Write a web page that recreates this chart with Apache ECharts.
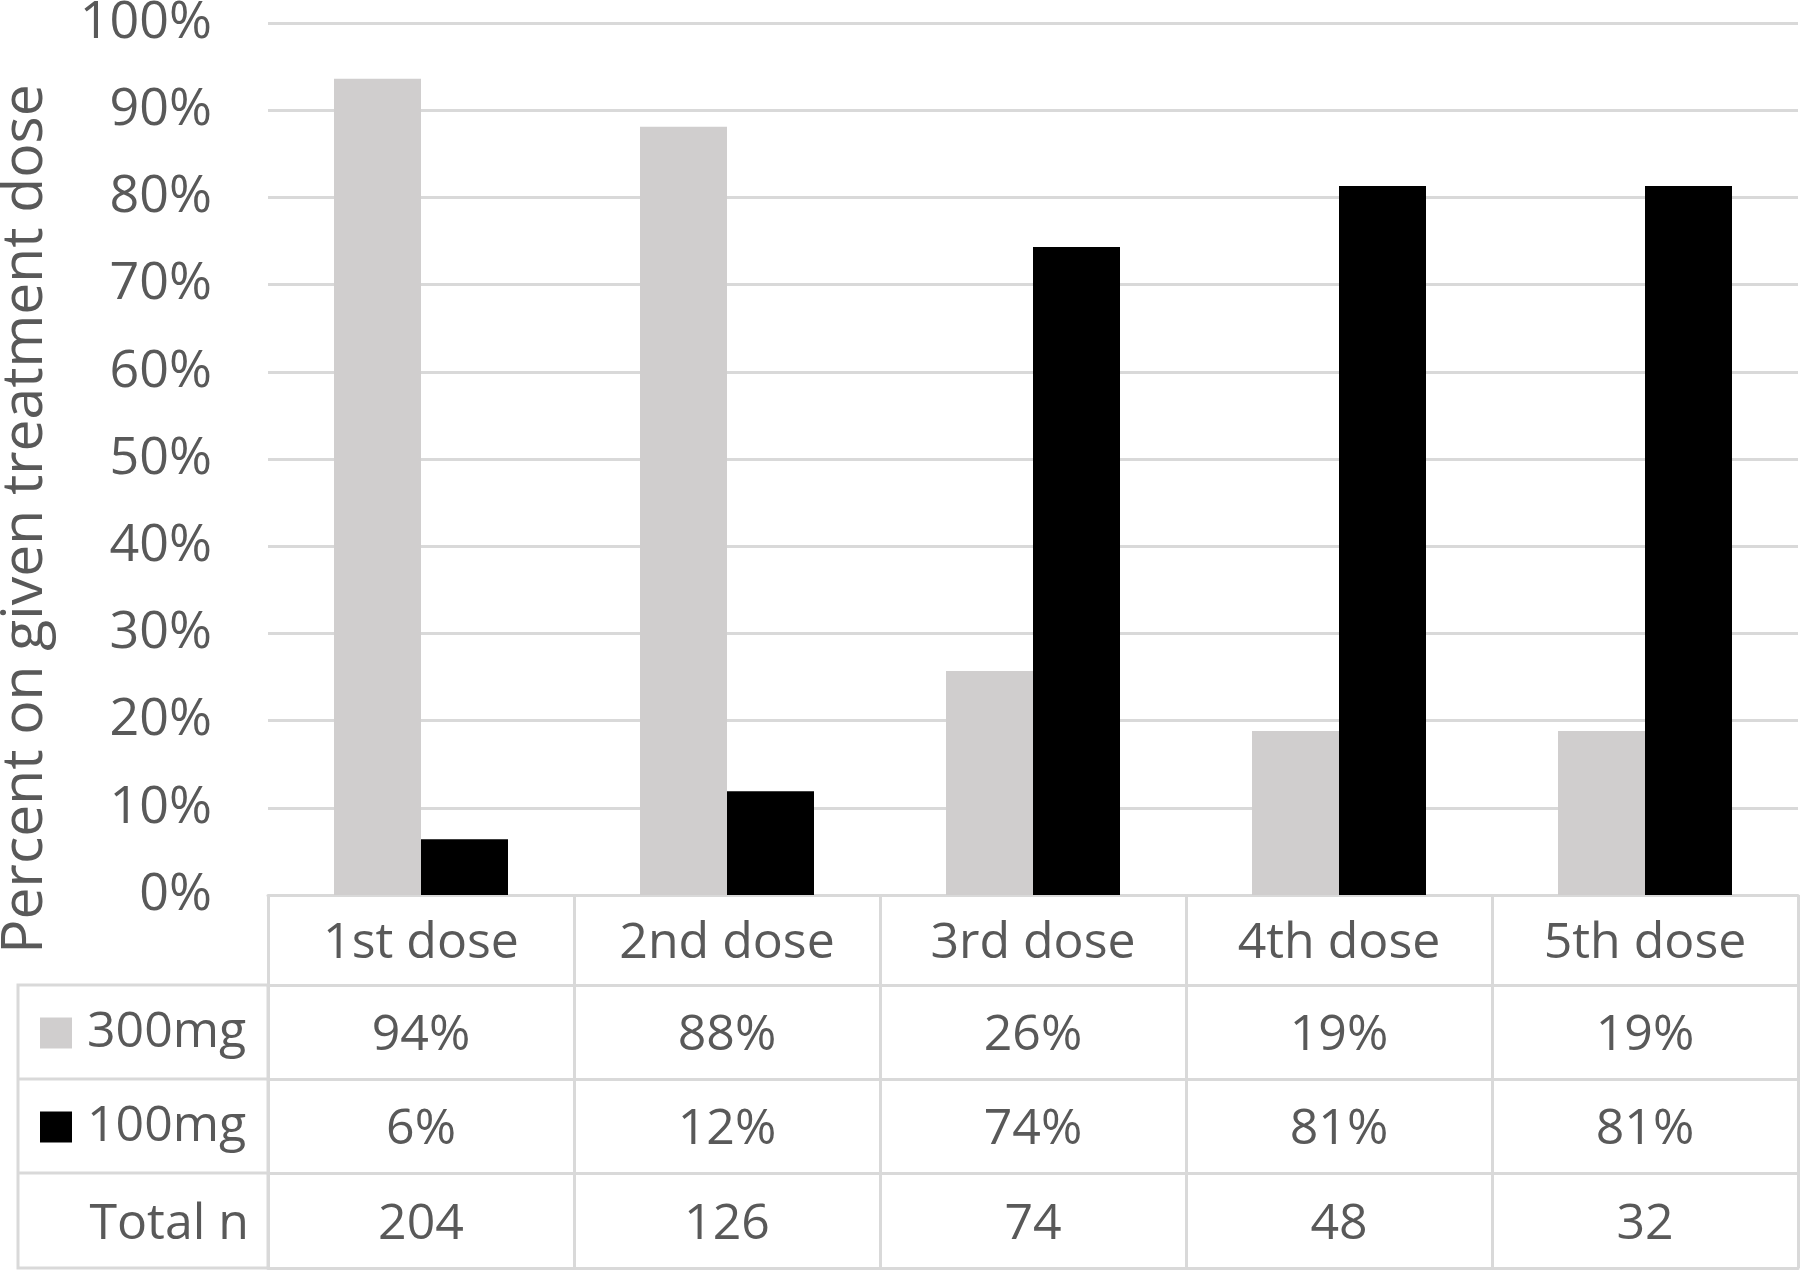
<!DOCTYPE html>
<html>
<head>
<meta charset="utf-8">
<title>Percent on given treatment dose</title>
<script src="https://cdn.jsdelivr.net/npm/echarts@6/dist/echarts.min.js"></script>
<style>
  html, body { margin: 0; padding: 0; background: #fff; }
  #chart { width: 1800px; height: 1272px; }
</style>
</head>
<body>
<div id="chart"></div>
<script>
// data
const doses = ['1st dose', '2nd dose', '3rd dose', '4th dose', '5th dose']
const dose300 = [93.6, 88.1, 25.7, 18.8, 18.8] // % on 300mg
const dose100 = [6.4, 11.9, 74.3, 81.3, 81.3] // % on 100mg
const totalN = [204, 126, 74, 48, 32]
const yTicks = [0, 10, 20, 30, 40, 50, 60, 70, 80, 90, 100]

const font = '"Open Sans", "DejaVu Sans", sans-serif'
const textColor = '#595959'
const lineColor = '#d9d9d9'
const fs = 50

// table layout (px)
const plotLeft = 268
const axisY = 895
const rows = [90, 94, 94, 95] // heights of category row, 300mg, 100mg, total n
const rowTop = [0, 90, 184, 278] // offsets from axis line
const textShift = 4 // calibri sits a little lower in its cell

function tableAxis(i, fmt) {
  return {
    type: 'category',
    position: 'bottom',
    offset: rowTop[i],
    data: doses,
    axisLine: { show: true, lineStyle: { color: lineColor, width: 3 } },
    axisTick: { show: true, alignWithLabel: false, length: rows[i], lineStyle: { color: lineColor, width: 3 } },
    axisLabel: {
      margin: rows[i] / 2 + textShift,
      verticalAlign: 'middle',
      fontFamily: font,
      fontSize: fs,
      color: textColor,
      formatter: fmt
    },
    splitLine: { show: false }
  }
}

const chart = echarts.init(document.getElementById('chart'))

chart.setOption({
  backgroundColor: '#ffffff',
  animation: false,
  textStyle: { fontFamily: font },
  grid: { left: plotLeft, right: 2, top: 23, bottom: 1272 - axisY, outerBoundsMode: 'none', containLabel: false },
  legend: {
    orient: 'vertical',
    left: 40,
    top: 1003,
    padding: 0,
    itemWidth: 32,
    itemHeight: 31,
    itemGap: 34,
    icon: 'rect',
    selectedMode: false,
    textStyle: { fontFamily: font, fontSize: fs, color: textColor, lineHeight: 50, padding: [10, 0, 0, 10] },
    data: ['300mg', '100mg']
  },
  xAxis: [
    tableAxis(0, v => v),
    tableAxis(1, (v, i) => Math.round(dose300[i]) + '%'),
    tableAxis(2, (v, i) => Math.round(dose100[i]) + '%'),
    tableAxis(3, (v, i) => String(totalN[i])),
    {
      type: 'category',
      position: 'bottom',
      offset: 373,
      data: doses,
      axisLine: { show: true, lineStyle: { color: lineColor, width: 3 } },
      axisTick: { show: false },
      axisLabel: { show: false }
    }
  ],
  yAxis: {
    type: 'value',
    min: yTicks[0],
    max: yTicks[yTicks.length - 1],
    interval: 10,
    name: 'Percent on given treatment dose',
    nameLocation: 'middle',
    nameRotate: 90,
    nameGap: 214,
    nameTextStyle: { fontFamily: font, fontSize: 57, color: textColor, padding: [0, 120, 0, 0] },
    axisLine: { show: false },
    axisTick: { show: false },
    axisLabel: { margin: 56, fontFamily: font, fontSize: 52, color: textColor, formatter: '{value}%' },
    splitLine: { lineStyle: { color: lineColor, width: 3 } }
  },
  graphic: [
    // left column of the data table
    { type: 'rect', shape: { x: 18, y: axisY + rowTop[1], width: plotLeft - 18, height: 373 - rowTop[1] }, style: { fill: 'none', stroke: lineColor, lineWidth: 3 } },
    { type: 'line', shape: { x1: 18, y1: axisY + rowTop[2], x2: plotLeft, y2: axisY + rowTop[2] }, style: { stroke: lineColor, lineWidth: 3 } },
    { type: 'line', shape: { x1: 18, y1: axisY + rowTop[3], x2: plotLeft, y2: axisY + rowTop[3] }, style: { stroke: lineColor, lineWidth: 3 } },
    { type: 'text', x: 249, y: axisY + rowTop[3] + rows[3] / 2 + textShift, style: { text: 'Total n', fontFamily: font, fontSize: fs, fill: textColor, align: 'right', verticalAlign: 'middle' } }
  ],
  series: [
    {
      name: '300mg',
      type: 'bar',
      barWidth: 87,
      barGap: '0%',
      itemStyle: { color: '#d0cece' },
      data: dose300
    },
    {
      name: '100mg',
      type: 'bar',
      barWidth: 87,
      barGap: '0%',
      itemStyle: { color: '#000000' },
      data: dose100
    }
  ]
})
</script>
</body>
</html>
